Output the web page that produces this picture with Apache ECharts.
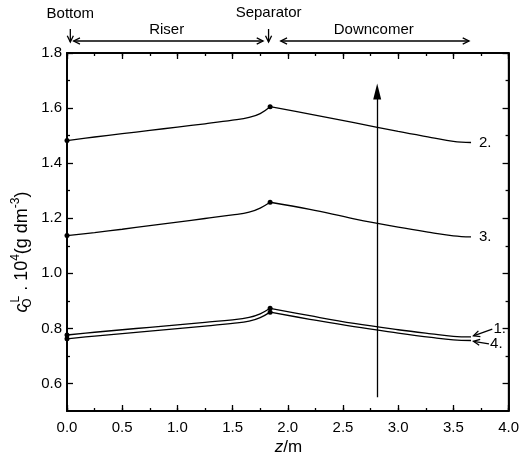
<!DOCTYPE html>
<html>
<head>
<meta charset="utf-8">
<script src="https://cdn.jsdelivr.net/npm/echarts@6/dist/echarts.min.js"></script>
<style>
  html, body { margin: 0; padding: 0; background: #fff; }
  #chart { width: 522px; height: 461px; }
</style>
</head>
<body>
<div id="chart"></div>
<script>
var myChart = echarts.init(document.getElementById('chart'));

// positions along the loop (m)
var riserZ = [0, 0.25, 0.5, 0.75, 1.0, 1.25, 1.5, 1.65, 1.75, 1.84];
var downZ = [1.84, 2.2, 2.6, 3.0, 3.3, 3.5, 3.66];

// oxygen concentration, c_O^L * 10^4 (g dm^-3)
var riser1 = [0.776, 0.786, 0.795, 0.804, 0.813, 0.822, 0.831, 0.840, 0.853, 0.873];
var down1 = [0.873, 0.846, 0.818, 0.795, 0.780, 0.771, 0.769];
var riser2 = [1.482, 1.495, 1.507, 1.519, 1.531, 1.543, 1.556, 1.566, 1.580, 1.605];
var down2 = [1.605, 1.578, 1.547, 1.515, 1.493, 1.479, 1.475];
var riser3 = [1.137, 1.148, 1.160, 1.173, 1.186, 1.199, 1.212, 1.222, 1.237, 1.258];
var down3 = [1.258, 1.232, 1.198, 1.168, 1.148, 1.136, 1.132];
var riser4 = [0.762, 0.772, 0.781, 0.790, 0.799, 0.808, 0.818, 0.826, 0.839, 0.859];
var down4 = [0.859, 0.833, 0.806, 0.783, 0.767, 0.758, 0.756];

var yMajorTicks = [0.6, 0.8, 1.0, 1.2, 1.4, 1.6, 1.8];
var yMinorTicks = [0.7, 0.9, 1.1, 1.3, 1.5, 1.7];

var curveLabels = [
    {text: '2.', z: 3.72, c: 1.475},
    {text: '3.', z: 3.72, c: 1.132},
    {text: '1.', z: 3.85, c: 0.80},
    {text: '4.', z: 3.82, c: 0.742}
];

var font = 'Liberation Sans, Arial, sans-serif';
var black = '#000';

// plot box, shared by the grid and the annotations around it
var box = {left: 67, top: 53, width: 443, height: 358};
var zMin = 0, zMax = 4, cMin = 0.5, cMax = 1.8;

function pairs(xs, ys) {
    return xs.map(function (x, i) { return [x, ys[i]]; });
}

function riserSeries(ys) {
    return {
        type: 'line',
        data: pairs(riserZ, ys),
        smooth: 0.4,
        showSymbol: true,
        symbol: 'circle',
        symbolSize: function (v, p) {
            return (p.dataIndex === 0 || p.dataIndex === riserZ.length - 1) ? 5 : 0;
        },
        itemStyle: {color: black},
        lineStyle: {color: black, width: 1.3},
        silent: true
    };
}

function downSeries(ys) {
    return {
        type: 'line',
        data: pairs(downZ, ys),
        smooth: 0.4,
        showSymbol: false,
        lineStyle: {color: black, width: 1.3},
        silent: true
    };
}

function xAx(pos, step, len, labels) {
    return {
        type: 'value',
        position: pos,
        min: zMin, max: zMax, interval: step,
        splitLine: {show: false},
        axisLine: {show: true, onZero: false, lineStyle: {color: black, width: 1.5}},
        axisTick: {show: true, inside: true, length: len, lineStyle: {color: black, width: 1.3}},
        axisLabel: {
            show: true, color: black, fontSize: 15, margin: 9,
            formatter: function (v) { return labels ? v.toFixed(1) : ''; }
        }
    };
}

function yAx(pos, ticks, len, labels) {
    return {
        type: 'value',
        position: pos,
        min: cMin, max: cMax,
        splitLine: {show: false},
        axisLine: {show: true, onZero: false, lineStyle: {color: black, width: 1.5}},
        axisTick: {show: true, inside: true, length: len, customValues: ticks, lineStyle: {color: black, width: 1.3}},
        axisLabel: {
            show: true, color: black, fontSize: 15, margin: 5,
            customValues: ticks,
            formatter: function (v) { return labels ? v.toFixed(1) : ''; }
        }
    };
}

var xAxes = [
    xAx('bottom', 0.25, 3, false),
    xAx('top', 0.25, 3, false),
    xAx('top', 0.5, 6, false),
    xAx('bottom', 0.5, 6, true)
];

var yAxes = [
    yAx('left', yMinorTicks, 3, false),
    yAx('right', yMinorTicks, 3, false),
    yAx('right', yMajorTicks, 6, false),
    yAx('left', yMajorTicks, 6, true)
];

var bigArrow = riserSeries(riser1);
bigArrow.markLine = {
    silent: true,
    symbol: ['none', 'triangle'],
    symbolSize: [8, 16],
    label: {show: false},
    lineStyle: {color: black, width: 1.3, type: 'solid'},
    data: [[{coord: [2.81, 0.55]}, {coord: [2.81, 1.66]}]]
};

// annotations drawn around the plot
function px(z, c) {
    return [
        box.left + (z - zMin) / (zMax - zMin) * box.width,
        box.top + (cMax - c) / (cMax - cMin) * box.height
    ];
}

function arrowHead(x1, y1, x2, y2, size) {
    var a = Math.atan2(y2 - y1, x2 - x1);
    var s = size || 7;
    return {
        type: 'polyline',
        silent: true,
        shape: {points: [
            [x2 - s * Math.cos(a - 0.45), y2 - s * Math.sin(a - 0.45)],
            [x2, y2],
            [x2 - s * Math.cos(a + 0.45), y2 - s * Math.sin(a + 0.45)]
        ]},
        style: {stroke: black, lineWidth: 1.3, fill: null}
    };
}

function arrow(x1, y1, x2, y2, both) {
    var els = [
        {type: 'line', silent: true, shape: {x1: x1, y1: y1, x2: x2, y2: y2}, style: {stroke: black, lineWidth: 1.3}},
        arrowHead(x1, y1, x2, y2)
    ];
    if (both) els.push(arrowHead(x2, y2, x1, y1));
    return els;
}

function txt(s, x, y, align, size) {
    return {
        type: 'text', x: x, y: y, silent: true,
        style: {text: s, fill: black, font: (size || 15) + 'px ' + font, align: align || 'center', verticalAlign: 'middle'}
    };
}

var g = [];
var xb = px(0.03, 1)[0];
var xsep = px(1.82, 1)[0];
var arrowY = 41;
g.push(txt('Bottom', xb, 14));
g = g.concat(arrow(xb, 29, xb, 42, false));
g = g.concat(arrow(px(0.06, 1)[0], arrowY, px(1.77, 1)[0], arrowY, true));
g.push(txt('Riser', px(0.9, 1)[0], 30));
g.push(txt('Separator', xsep, 13));
g = g.concat(arrow(xsep, 29, xsep, 42, false));
g = g.concat(arrow(px(1.93, 1)[0], arrowY, px(3.63, 1)[0], arrowY, true));
g.push(txt('Downcomer', px(2.77, 1)[0], 30));

curveLabels.forEach(function (l) {
    var p = px(l.z, l.c);
    g.push(txt(l.text, p[0], p[1], 'left', 15));
});

var t1 = px(3.67, 0.773), f1 = px(3.84, 0.797);
g = g.concat(arrow(f1[0], f1[1], t1[0], t1[1], false));
var t4 = px(3.67, 0.753), f4 = px(3.81, 0.744);
g = g.concat(arrow(f4[0], f4[1], t4[0], t4[1], false));

// axis titles
g.push({
    type: 'text', silent: true,
    x: box.left + box.width / 2, y: 447,
    style: {
        text: '{i|z}{n|/m}', align: 'center', verticalAlign: 'middle',
        rich: {
            i: {fontSize: 17, fontStyle: 'italic', fontFamily: font, fill: black},
            n: {fontSize: 17, fontFamily: font, fill: black}
        }
    }
});
g.push({
    type: 'text', silent: true,
    x: 22, y: 252, rotation: Math.PI / 2,
    style: {
        text: '{i|c}{sub|O}{sup|L}{n| . 10}{sup|4}{n|(g dm}{sup|-3}{n|)}',
        align: 'center', verticalAlign: 'middle',
        rich: {
            i: {fontSize: 18, fontStyle: 'italic', fontFamily: font, fill: black, lineHeight: 24},
            n: {fontSize: 18, fontFamily: font, fill: black, lineHeight: 24},
            sub: {fontSize: 12, fontFamily: font, fill: black, verticalAlign: 'bottom', lineHeight: 12, width: 1},
            sup: {fontSize: 12, fontFamily: font, fill: black, verticalAlign: 'top', lineHeight: 12}
        }
    }
});

var option = {
    animation: false,
    backgroundColor: '#fff',
    textStyle: {fontFamily: font},
    grid: {
        left: box.left, top: box.top, width: box.width, height: box.height,
        show: true, borderColor: black, borderWidth: 1.5
    },
    xAxis: xAxes,
    yAxis: yAxes,
    graphic: g,
    series: [
        bigArrow, downSeries(down1),
        riserSeries(riser2), downSeries(down2),
        riserSeries(riser3), downSeries(down3),
        riserSeries(riser4), downSeries(down4)
    ]
};

myChart.setOption(option);
</script>
</body>
</html>
